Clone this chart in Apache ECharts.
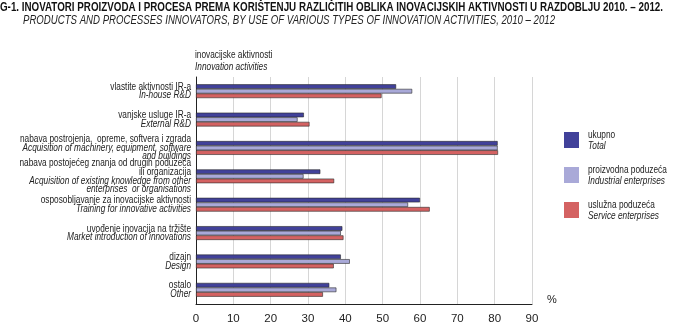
<!DOCTYPE html>
<html><head><meta charset="utf-8">
<script src="https://cdn.jsdelivr.net/npm/echarts@6/dist/echarts.min.js"></script>
<style>html,body{margin:0;padding:0;background:#fff}#c{width:679px;height:324px}</style>
</head><body><div id="c"></div>
<script>
var catHr = [
  ["vlastite aktivnosti IR-a"],
  ["vanjske usluge IR-a"],
  ["nabava postrojenja,  opreme, softvera i zgrada"],
  ["nabava postojećeg znanja od drugih poduzeća", "ili organizacija"],
  ["osposobljavanje za inovacijske aktivnosti"],
  ["uvođenje inovacija na tržište"],
  ["dizajn"],
  ["ostalo"]
];
var catEn = [
  ["In-house R&D"],
  ["External R&D"],
  ["Acquisition of machinery, equipment, software", "and buildings"],
  ["Acquisition of existing knowledge from other", "enterprises  or organisations"],
  ["Training for innovative activities"],
  ["Market introduction of innovations"],
  ["Design"],
  ["Other"]
];
var total      = [53.6, 28.9, 80.8, 33.3, 60.0, 39.2, 38.8, 35.7];
var industrial = [57.9, 27.2, 80.8, 28.8, 56.8, 38.8, 41.2, 37.6];
var service    = [49.7, 30.4, 80.9, 37.0, 62.6, 39.5, 36.9, 34.0];
var seriesHr = ["ukupno", "proizvodna poduzeća", "uslužna poduzeća"];
var seriesEn = ["Total", "Industrial enterprises", "Service enterprises"];
var xTicks = [0, 10, 20, 30, 40, 50, 60, 70, 80, 90];
var titleHr = "G-1. INOVATORI PROIZVODA I PROCESA PREMA KORIŠTENJU RAZLIČITIH OBLIKA INOVACIJSKIH AKTIVNOSTI U RAZDOBLJU 2010. – 2012.";
var titleEn = "PRODUCTS AND PROCESSES INNOVATORS, BY USE OF VARIOUS TYPES OF INNOVATION ACTIVITIES, 2010 – 2012";

var FS = "'Liberation Sans', Arial, sans-serif";
var colors = ["#41419a", "#a9a9d8", "#d46262"];
var cats = catHr.map(function(h, i){ return String(i); });

// text measurement to emulate a narrow font through horizontal scaling
var mctx = document.createElement('canvas').getContext('2d');
function measure(font, s){ mctx.font = font; return mctx.measureText(s).width; }
var LBL = 10.5;
var NARROW = 171 / measure(LBL + "px " + FS, catHr[2][0]);
var titleScale = 663 / measure("bold 12.5px " + FS, titleHr);
var subScale = 532 / measure("italic 12px " + FS, titleEn);

var chart = echarts.init(document.getElementById('c'));
var seriesData = [total, industrial, service];

var graphics = [
  {type: 'text', x: 0, y: 8, scaleX: titleScale, style: {text: titleHr, font: "bold 12.5px " + FS, fill: '#111', verticalAlign: 'middle'}},
  {type: 'text', x: 23, y: 21, scaleX: subScale, style: {text: titleEn, font: "italic 12px " + FS, fill: '#222', verticalAlign: 'middle'}},
  {type: 'text', x: 195, y: 55, scaleX: NARROW, style: {text: "inovacijske aktivnosti", font: LBL + "px " + FS, fill: '#222', verticalAlign: 'middle'}},
  {type: 'text', x: 195, y: 67, scaleX: NARROW, style: {text: "Innovation activities", font: "italic " + LBL + "px " + FS, fill: '#222', verticalAlign: 'middle'}},
  {type: 'text', x: 547, y: 300, style: {text: "%", font: "11px " + FS, fill: '#222', verticalAlign: 'middle'}}
];
seriesHr.forEach(function(n, k){
  graphics.push({type: 'text', x: 588, y: 135 + 35 * k, scaleX: NARROW, style: {text: n, font: LBL + "px " + FS, fill: '#222', verticalAlign: 'middle'}});
  graphics.push({type: 'text', x: 588, y: 146 + 35 * k, scaleX: NARROW, style: {text: seriesEn[k], font: "italic " + LBL + "px " + FS, fill: '#222', verticalAlign: 'middle'}});
});

var labelSeries = {
  type: 'custom', name: '__labels', clip: false, silent: true,
  data: cats.map(function(c, i){ return [0, i]; }),
  encode: {x: 0, y: 1},
  renderItem: function(params, api){
    var i = api.value(1);
    var p = api.coord([0, i]);
    var parts = [];
    catHr[i].forEach(function(s){ parts.push("{n|" + s + "}"); });
    catEn[i].forEach(function(s){ parts.push("{i|" + s + "}"); });
    return {
      type: 'text', x: p[0] - 5, y: p[1], scaleX: NARROW,
      style: {
        text: parts.join("\n"), align: 'right', verticalAlign: 'middle',
        rich: {
          n: {font: LBL + "px " + FS, lineHeight: 8.6, fill: '#222', align: 'right'},
          i: {font: "italic " + LBL + "px " + FS, lineHeight: 8.6, fill: '#222', align: 'right'}
        }
      }
    };
  }
};

chart.setOption({
  animation: false,
  textStyle: {fontFamily: FS},
  graphic: graphics,
  legend: {
    orient: 'vertical', left: 564, top: 132, padding: 0,
    itemWidth: 15, itemHeight: 16, itemGap: 19,
    icon: 'rect',
    data: seriesHr,
    formatter: function(){ return ''; },
    textStyle: {fontSize: 1, padding: 0},
    itemStyle: {borderWidth: 0}
  },
  grid: {left: 196, right: 147, top: 77, bottom: 20, containLabel: false, outerBoundsMode: 'none'},
  xAxis: {
    type: 'value', min: 0, max: 90, interval: 10,
    axisLine: {show: true, lineStyle: {color: '#222', width: 1}},
    axisTick: {show: false},
    splitLine: {show: true, lineStyle: {color: '#d6d6d6', width: 1}},
    axisLabel: {margin: 9, fontFamily: FS, fontSize: 11.5, color: '#222',
      formatter: function(v){ return xTicks.indexOf(v) >= 0 ? String(v) : ''; }}
  },
  yAxis: {
    type: 'category', data: cats, inverse: true,
    axisLine: {show: true, lineStyle: {color: '#222', width: 1}},
    axisTick: {show: false},
    splitLine: {show: false},
    axisLabel: {show: false}
  },
  series: seriesHr.map(function(name, k){
    return {
      name: name, type: 'bar', data: seriesData[k],
      barWidth: 4.6, barGap: '0%',
      itemStyle: {color: colors[k], borderColor: '#2a2a2a', borderWidth: 0.6}
    };
  }).concat([labelSeries])
});
</script></body></html>
